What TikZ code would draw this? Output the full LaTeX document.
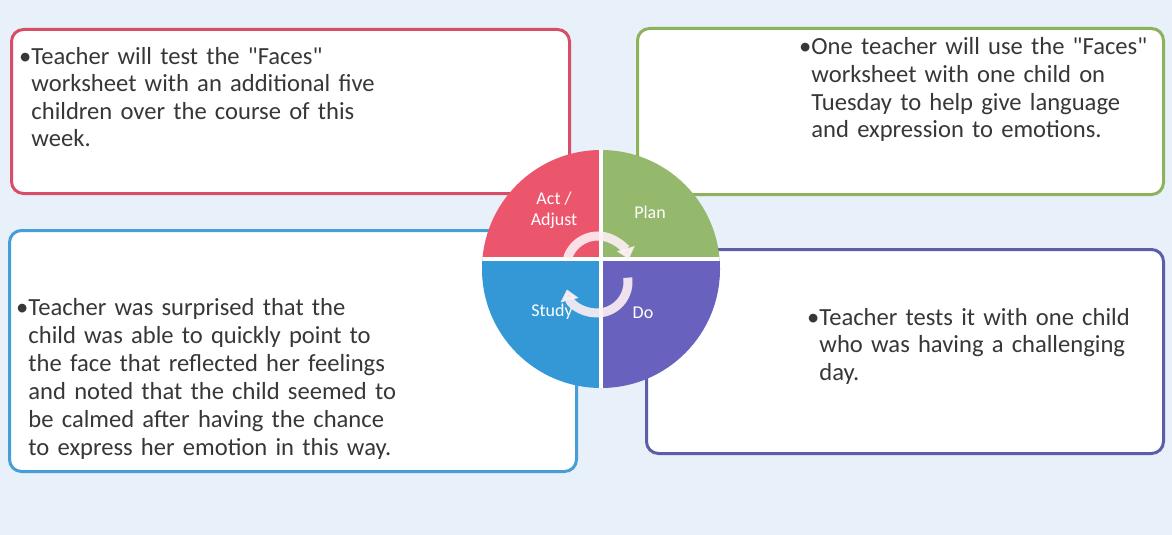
\documentclass[tikz,border=0pt]{standalone}
\usepackage{fontspec}
\setmainfont{Carlito}[Ligatures=TeXOff]
\usetikzlibrary{arrows.meta}
\definecolor{bg}{RGB}{232,240,249}
\definecolor{txt}{RGB}{55,55,55}
\definecolor{redline}{RGB}{216,78,104}
\definecolor{greenline}{RGB}{140,178,92}
\definecolor{blueline}{RGB}{70,158,214}
\definecolor{purpleline}{RGB}{92,94,168}
\definecolor{actfill}{RGB}{236,86,108}
\definecolor{planfill}{RGB}{148,184,108}
\definecolor{studyfill}{RGB}{52,152,214}
\definecolor{dofill}{RGB}{104,98,190}
\definecolor{arcwhite}{RGB}{252,240,244}
\newcommand\dq{\char"22\relax}
\tikzset{
  panel/.style={draw=#1, line width=3pt, rounded corners=12pt, fill=white, anchor=north west, inner sep=0pt},
  boxtext/.style={anchor=base west, inner sep=0pt, align=left, text width=470pt,
    font=\fontsize{24.6}{27.5}\selectfont, text=txt},
  qlabel/.style={text=white, font=\fontsize{18}{21}\selectfont, align=center, inner sep=0pt},
  cyclearrow/.style={draw=arcwhite, opacity=0.9, line width=9pt,
    -{Triangle[width=18pt,length=11pt]}},
}
\begin{document}
\begin{tikzpicture}[x=1pt,y=-1pt]
\useasboundingbox (0,0) rectangle (1172,535);
\fill[bg] (0,0) rectangle (1172,535);

% panels
\node[panel=redline, minimum width=558pt, minimum height=164pt] (actbox) at (10,28) {};
\node[panel=greenline, minimum width=526pt, minimum height=166pt] (planbox) at (636,27) {};
\node[panel=blueline, minimum width=567pt, minimum height=241pt] (studybox) at (8,229) {};
\node[panel=purpleline, minimum width=517pt, minimum height=204pt] (dobox) at (645,248) {};

% panel texts
\node[boxtext] (acttext) at (19,64) {•Teacher will test the \dq Faces\dq\\\hphantom{•}worksheet with an additional five\\\hphantom{•}children over the course of this\\\hphantom{•}week.};
\node[boxtext] (plantext) at (799,55) {•One teacher will use the \dq Faces\dq\\\hphantom{•}worksheet with one child on\\\hphantom{•}Tuesday to help give language\\\hphantom{•}and expression to emotions.};
\node[boxtext, font=\fontsize{24.6}{28}\selectfont] (studytext) at (16,315) {•Teacher was surprised that the\\\hphantom{•}child was able to quickly point to\\\hphantom{•}the face that reflected her feelings\\\hphantom{•}and noted that the child seemed to\\\hphantom{•}be calmed after having the chance\\\hphantom{•}to express her emotion in this way.};
\node[boxtext] (dotext) at (807,325) {•Teacher tests it with one child\\\hphantom{•}who was having a challenging\\\hphantom{•}day.};

% cycle circle
\coordinate (cc) at (601,269);
\begin{scope}
  \clip (cc) circle[radius=119pt];
  \fill[actfill] (470,140) rectangle (601,259);
  \fill[planfill] (601,140) rectangle (732,259);
  \fill[studyfill] (470,259) rectangle (601,400);
  \fill[dofill] (601,259) rectangle (732,400);
  \draw[white, line width=4pt] (601,140) -- (601,400);
  \draw[white, line width=4pt] (470,259) -- (732,259);
\end{scope}

\node[qlabel] (actlabel) at (554,210) {Act /\\Adjust};
\node[qlabel] (planlabel) at (650,212) {Plan};
\node[qlabel] (studylabel) at (552,312) {Study};
\node[qlabel] (dolabel) at (643,313) {Do};

% cycle arrows
\coordinate (c1) at (598,268);
\coordinate (c2) at (597,282);
\draw[cyclearrow] ([shift={(162:32pt)}]c1) arc[start angle=162, end angle=16, radius=32pt];
\draw[cyclearrow] ([shift={(8:31pt)}]c2) arc[start angle=8, end angle=-166, radius=31pt];
\end{tikzpicture}
\end{document}
